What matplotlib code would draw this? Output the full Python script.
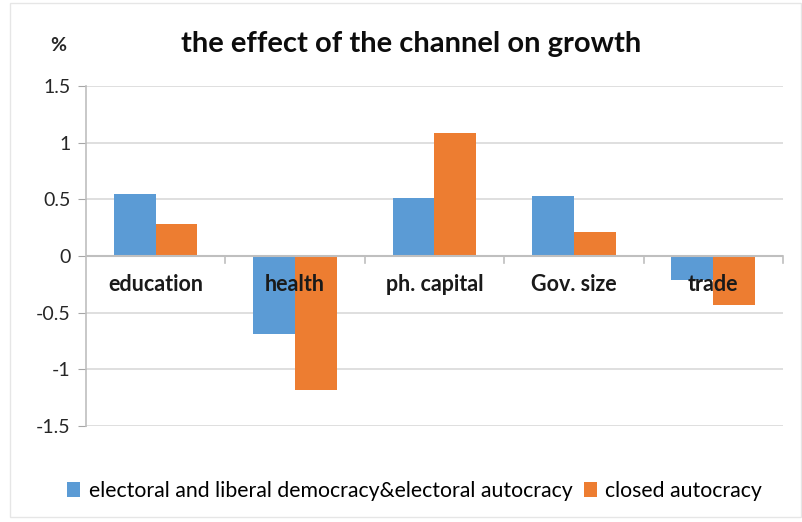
import matplotlib.pyplot as plt
import numpy as np
from matplotlib.patches import Rectangle

plt.rcParams['font.family'] = ['Lato', 'DejaVu Sans']

channels = ['education', 'health', 'ph. capital', 'Gov. size', 'trade']
democracy = [0.55, -0.69, 0.51, 0.53, -0.215]
closed = [0.285, -1.18, 1.09, 0.21, -0.43]
series_names = ['electoral and liberal democracy&electoral autocracy',
                'closed autocracy']

blue = '#5b9bd5'
orange = '#ed7d31'
grid_c = '#d9d9d9'

fig = plt.figure(figsize=(8.03, 5.22), dpi=100)
ax = fig.add_axes([0.107, 0.184, 0.868, 0.651])

x = np.arange(len(channels))
w = 0.3
b1 = ax.bar(x - w / 2, democracy, w, color=blue, label=series_names[0], zorder=3)
b2 = ax.bar(x + w / 2, closed, w, color=orange, label=series_names[1], zorder=3)

ax.set_xlim(-0.5, len(channels) - 0.5)
ax.set_ylim(-1.5, 1.5)
ax.set_yticks(np.arange(-1.5, 1.51, 0.5))
ax.set_yticklabels(['-1.5', '-1', '-0.5', '0', '0.5', '1', '1.5'])
ax.tick_params(axis='y', labelsize=14, length=6, color='#a6a6a6', pad=5,
               labelcolor='#262626')
ax.yaxis.grid(True, color=grid_c, linewidth=1.2, zorder=0)
ax.set_xticks([])

for s in ['top', 'right', 'bottom']:
    ax.spines[s].set_visible(False)
ax.spines['left'].set_color('#bfbfbf')
ax.spines['left'].set_linewidth(1.2)

# zero line with category separators hanging below it
ax.axhline(0, color='#bfbfbf', linewidth=1.5, zorder=4)
for b in np.arange(0.5, len(channels), 1.0):
    ax.plot([b, b], [0, -0.06], color='#bfbfbf', linewidth=1.2, zorder=4,
            clip_on=False)

# category names sit just under the zero line, over the bars
for xi, name in zip(x, channels):
    ax.text(xi, -0.25, name, ha='center', va='center', fontsize=15.5,
            fontweight='bold', color='#1a1a1a', zorder=5)

fig.text(0.512, 0.915, 'the effect of the channel on growth', ha='center',
         va='center', fontsize=21, fontweight='bold', color='#0d0d0d')
fig.text(0.072, 0.913, '%', ha='center', va='center', fontsize=14,
         fontweight='bold', color='#262626')

fig.legend(handles=[b1, b2], loc='center left', bbox_to_anchor=(0.06, 0.06),
           ncol=2, frameon=False, fontsize=15.3, handlelength=0.6,
           handleheight=0.7, handletextpad=0.4, columnspacing=0.55)

# faint chart border
fig.patches.append(Rectangle((0.013, 0.01), 0.985, 0.985, transform=fig.transFigure,
                             fill=False, edgecolor='#e6e6e6', linewidth=1))

fig.savefig('out.png', dpi=100)
